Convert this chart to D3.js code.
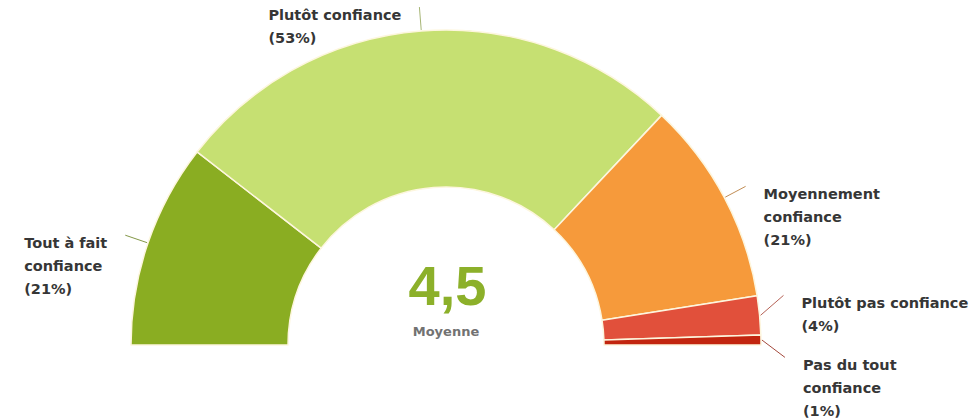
<!DOCTYPE html>
<html>
<head>
<meta charset="utf-8">
<script src="https://cdn.jsdelivr.net/npm/d3@7"></script>
<style>
  html, body { margin: 0; padding: 0; background: #fff; }
  svg { display: block; }
</style>
</head>
<body>
<svg id="gauge" width="976" height="418"></svg>
<script>
// data
let categories = ["Tout à fait confiance", "Plutôt confiance", "Moyennement confiance", "Plutôt pas confiance", "Pas du tout confiance"],
    labelLines = [["Tout à fait", "confiance"], ["Plutôt confiance"], ["Moyennement", "confiance"], ["Plutôt pas confiance"], ["Pas du tout", "confiance"]],
    shares = [21, 53, 21, 4, 1],
    colors = ["#8aad22", "#c6e072", "#f69a3b", "#e1503b", "#c2250f"];

let average = "4,5",
    averageLabel = "Moyenne";

let svg = d3.select("#gauge"),
    cx = 446,
    cy = 345,
    rOuter = 315,
    rInner = 158,
    lineH = 23;

let pie = d3.pie()
    .sort(null)
    .value(d => d.value)
    .startAngle(-Math.PI / 2)
    .endAngle(Math.PI / 2);

let arc = d3.arc()
    .innerRadius(rInner)
    .outerRadius(rOuter);

let data = pie(shares.map((v, i) => ({ name: categories[i], value: v, lines: labelLines[i].concat(["(" + v + "%)"]), color: colors[i] })));

let g = svg.append("g").attr("transform", "translate(" + cx + "," + cy + ")");

g.selectAll("path.slice")
  .data(data)
  .enter().append("path")
    .attr("class", "slice")
    .attr("d", arc)
    .attr("fill", d => d.data.color)
    .attr("stroke", "#fdf6de")
    .attr("stroke-width", 1.5)
    .attr("stroke-linejoin", "round");

// leader line anchors
function polar(a, r) { return [Math.sin(a) * r, -Math.cos(a) * r]; }

data.forEach(d => {
  d.mid = (d.startAngle + d.endAngle) / 2;
  d.p0 = polar(d.mid, rOuter + 1);
  d.p1 = polar(d.mid, rOuter + 24);
  d.side = d.mid < 0 ? "left" : "right";
  d.y = d.p1[1];
});

// push overlapping labels apart on each side
["left", "right"].forEach(side => {
  let items = data.filter(d => d.side === side).sort((a, b) => a.y - b.y);
  for (let pass = 0; pass < 20; pass++) {
    for (let k = 1; k < items.length; k++) {
      let a = items[k - 1], b = items[k],
          need = a.data.lines.length * lineH + 16,
          gap = b.y - a.y;
      if (gap < need) {
        let shift = (need - gap) / 2;
        a.y -= shift;
        b.y += shift;
      }
    }
  }
});

let labels = g.selectAll("g.label")
  .data(data)
  .enter().append("g")
    .attr("class", "label");

labels.append("polyline")
    .attr("points", d => [d.p0, [d.p1[0], d.y]].map(p => p.join(",")).join(" "))
    .attr("fill", "none")
    .attr("stroke", d => d3.color(d.data.color).darker(0.9))
    .attr("stroke-opacity", 0.8)
    .attr("stroke-width", 1);

let texts = labels.append("text")
    .attr("font-family", "'DejaVu Sans', Verdana, sans-serif")
    .attr("font-weight", "bold")
    .attr("font-size", "14.5px")
    .attr("fill", "#363636");

texts.selectAll("tspan")
  .data(d => d.data.lines)
  .enter().append("tspan")
    .attr("x", 0)
    .attr("dy", (t, i) => i === 0 ? 0 : lineH)
    .text(t => t);

texts.attr("transform", function(d) {
  let w = d3.max(d3.select(this).selectAll("tspan").nodes(), n => n.getComputedTextLength()),
      x = d.side === "left" ? d.p1[0] - 18 - w : d.p1[0] + 18;
  return "translate(" + x + "," + (d.y + 13) + ")";
});

// centre value
g.append("text")
    .attr("text-anchor", "middle")
    .attr("x", 1.5)
    .attr("y", -40)
    .attr("font-family", "'Liberation Sans', Arial, sans-serif")
    .attr("font-weight", "bold")
    .attr("font-size", "56px")
    .attr("fill", "#8cb02a")
    .text(average);

g.append("text")
    .attr("text-anchor", "middle")
    .attr("x", 0)
    .attr("y", -9)
    .attr("font-family", "'DejaVu Sans', Verdana, sans-serif")
    .attr("font-weight", "bold")
    .attr("font-size", "13px")
    .attr("fill", "#727272")
    .text(averageLabel);
</script>
</body>
</html>
